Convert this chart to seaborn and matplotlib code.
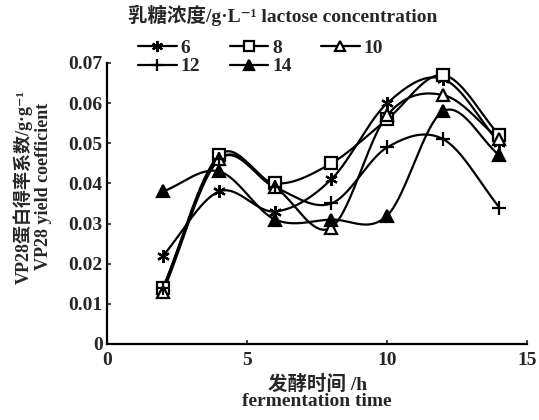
import numpy as np
import pandas as pd
import matplotlib
matplotlib.use("Agg")
import matplotlib.pyplot as plt
from matplotlib.lines import Line2D
import seaborn as sns

# ---- data ----
time_h = [2, 4, 6, 8, 10, 12, 14]
c6 = [0.022, 0.038, 0.033, 0.041, 0.060, 0.066, 0.050]
c8 = [0.014, 0.047, 0.040, 0.045, 0.056, 0.067, 0.052]
c10 = [0.013, 0.046, 0.039, 0.029, 0.057, 0.062, 0.051]
c12 = [0.014, 0.046, 0.039, 0.035, 0.049, 0.051, 0.034]
c14 = [0.038, 0.043, 0.031, 0.031, 0.032, 0.058, 0.047]
series_labels = ["6", "8", "10", "12", "14"]
series_values = [c6, c8, c10, c12, c14]
x_ticks = [0, 5, 10, 15]
y_ticks = [0, 0.01, 0.02, 0.03, 0.04, 0.05, 0.06, 0.07]
y_tick_labels = ["0", "0.01", "0.02", "0.03", "0.04", "0.05", "0.06", "0.07"]
legend_title = "乳糖浓度/g\u00b7L\u207b\u00b9 lactose concentration"
x_label = "发酵时间 /h\nfermentation time"
y_label = "VP28蛋白得率系数/g\u00b7g\u207b\u00b9\nVP28 yield coefficient"

markers = {"6": (6, 2, 0), "8": "s", "10": "^", "12": "+", "14": "^"}
facecolors = {"6": "black", "8": "white", "10": "white", "12": "black", "14": "black"}
msizes = {"6": 9, "8": 8, "10": 8, "12": 10, "14": 8}


def catmull_rom(x, y, n=40):
    x = np.asarray(x, float)
    y = np.asarray(y, float)
    px = np.concatenate([[2 * x[0] - x[1]], x, [2 * x[-1] - x[-2]]])
    py = np.concatenate([[2 * y[0] - y[1]], y, [2 * y[-1] - y[-2]]])
    xs, ys = [], []
    for i in range(1, len(px) - 2):
        t = np.linspace(0, 1, n, endpoint=(i == len(px) - 3))
        for p, out in ((px, xs), (py, ys)):
            p0, p1, p2, p3 = p[i - 1], p[i], p[i + 1], p[i + 2]
            out.extend(0.5 * ((2 * p1) + (-p0 + p2) * t
                              + (2 * p0 - 5 * p1 + 4 * p2 - p3) * t ** 2
                              + (-p0 + 3 * p1 - 3 * p2 + p3) * t ** 3))
    return np.array(xs), np.array(ys)


sns.set_style("ticks")
plt.rcParams["font.family"] = ["Liberation Serif", "Noto Sans CJK SC", "DejaVu Serif"]
plt.rcParams["font.weight"] = "bold"

fig = plt.figure(figsize=(5.39, 4.2), dpi=100)
ax = fig.add_axes([0.1985, 0.181, 0.78, 0.669])

for lab, vals in zip(series_labels, series_values):
    sx, sy = catmull_rom(time_h, vals)
    df_s = pd.DataFrame({"t": sx, "v": sy})
    sns.lineplot(data=df_s, x="t", y="v", ax=ax, color="black", lw=1.6,
                 sort=False, estimator=None)
    df_p = pd.DataFrame({"t": time_h, "v": vals})
    ax.plot(df_p["t"], df_p["v"], ls="none", marker=markers[lab],
            ms=msizes[lab], mfc=facecolors[lab], mec="black", mew=1.6, zorder=5)

ax.set_xlim(0, 15)
ax.set_ylim(0, 0.07)
ax.set_xticks(x_ticks)
ax.set_xticklabels([str(v) for v in x_ticks])
ax.set_yticks(y_ticks)
ax.set_yticklabels(y_tick_labels)
ax.tick_params(direction="in", length=3, width=1.2, labelsize=14)
ax.tick_params(axis="x", pad=6)
ax.tick_params(axis="y", pad=3)
for s in ["top", "right"]:
    ax.spines[s].set_visible(False)
for s in ["left", "bottom"]:
    ax.spines[s].set_linewidth(1.6)
    ax.spines[s].set_color("black")
for t in ax.get_xticklabels() + ax.get_yticklabels():
    t.set_fontweight("bold")

ax.set_xlabel(x_label, fontsize=14, fontweight="bold", linespacing=0.95, labelpad=4)
ax.set_ylabel(y_label, fontsize=13, fontweight="bold", linespacing=1.15, labelpad=12)
ax.yaxis.label.set_y(0.56)

fig.text(0.525, 0.963, legend_title, ha="center", va="center", fontsize=14,
         fontweight="bold")

handles = {lab: Line2D([], [], color="black", lw=1.6, marker=markers[lab],
                       ms=msizes[lab] - 1, mfc=facecolors[lab], mec="black", mew=1.6)
           for lab in series_labels}
order = ["6", "12", "8", "14", "10"]
fig.legend([handles[k] for k in order], order, loc="upper left",
           bbox_to_anchor=(0.238, 0.93), ncol=3, frameon=False,
           handlelength=2.0, handletextpad=0.2, columnspacing=1.5,
           labelspacing=0.05, borderpad=0, prop={"size": 14, "weight": "bold"})

fig.savefig("out.png", dpi=100, facecolor="white")
